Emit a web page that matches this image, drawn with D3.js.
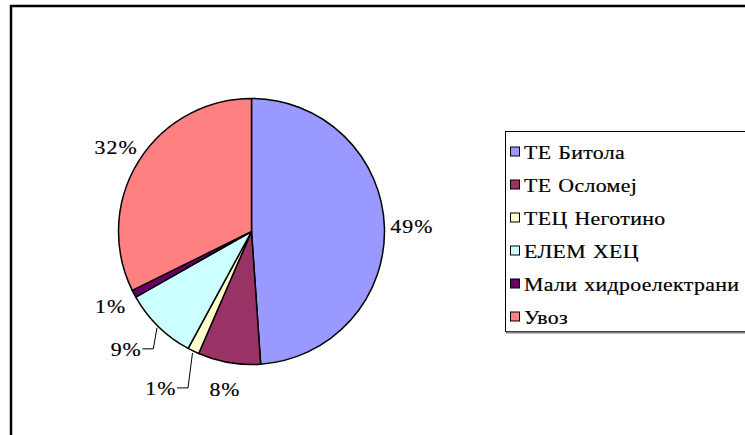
<!DOCTYPE html>
<html>
<head>
<meta charset="utf-8">
<title>Pie</title>
<script src="https://d3js.org/d3.v7.min.js"></script>
<style>
  body { margin: 0; background: #fff; }
</style>
</head>
<body>
<div id="chart"></div>
<script>
// data (percent of total)
var labels = ["ТЕ Битола", "ТЕ Осломеј", "ТЕЦ Неготино", "ЕЛЕМ ХЕЦ", "Мали хидроелектрани", "Увоз"];
var values = [48.9, 7.6, 1.4, 8.9, 0.9, 32.3];
var colors = ["#9999FF", "#993366", "#FFFFCC", "#CCFFFF", "#660066", "#FF8080"];

var width = 745, height = 435;
var cx = 251.5, cy = 231.5, r = 133;
var FONT = "Liberation Serif";
var stretch = 1.15;   // glyphs look a bit widened in the original

var svg = d3.select("#chart").append("svg")
    .attr("width", width)
    .attr("height", height);

// outer frame (only left and top edges are inside the picture)
svg.append("rect")
    .attr("x", 11).attr("y", 6)
    .attr("width", 800).attr("height", 500)
    .attr("fill", "none")
    .attr("stroke", "#000")
    .attr("stroke-width", 2.5);

var pie = d3.pie().sort(null).value(function(d) { return d; });
var arcs = pie(values);
var arc = d3.arc().innerRadius(0).outerRadius(r);

var g = svg.append("g").attr("transform", "translate(" + cx + "," + cy + ")");

g.selectAll("path.slice")
    .data(arcs)
    .enter().append("path")
    .attr("class", "slice")
    .attr("d", arc)
    .attr("fill", function(d, i) { return colors[i]; })
    .attr("stroke", "#000")
    .attr("stroke-width", 1.5)
    .attr("stroke-linejoin", "round");

// labels: most sit on a ring, two were dragged out and have leader lines
var moved = { 2: { r: 181, da: 0.075 }, 3: { r: 172, da: 0.044 } };
function polar(rad, a) { return [Math.sin(a) * rad, -Math.cos(a) * rad]; }

arcs.forEach(function(d, i) {
  var mid = (d.startAngle + d.endAngle) / 2;
  var m = moved[i];
  var p = m ? polar(m.r, mid + m.da) : polar(160, mid);
  var t = g.append("text")
      .attr("transform", "translate(" + (p[0] + 0.5) + "," + p[1] + ") scale(" + stretch + ",1)")
      .attr("text-anchor", "middle")
      .attr("dy", "0.35em")
      .attr("font-family", FONT)
      .attr("font-size", 19)
      .attr("letter-spacing", 0.9)
      .attr("stroke", "#000")
      .attr("stroke-width", 0.2)
      .text(Math.round(d.value) + "%");
  if (m) {
    var w = t.node().getComputedTextLength() * stretch;
    var x0 = p[0] + w / 2 + 1, y0 = p[1];
    var e = polar(135, mid);
    g.append("polyline")
        .attr("points", [[x0, y0], [x0 + 11, y0], e].map(function(q) { return q.join(","); }).join(" "))
        .attr("fill", "none")
        .attr("stroke", "#000")
        .attr("stroke-width", 1);
  }
});

// legend
var lg = svg.append("g");
lg.append("rect")
    .attr("x", 505.5).attr("y", 131.5)
    .attr("width", 300).attr("height", 200)
    .attr("fill", "#fff")
    .attr("stroke", "#000")
    .attr("stroke-width", 1);
lg.append("line")
    .attr("x1", 506).attr("x2", 745)
    .attr("y1", 332.5).attr("y2", 332.5)
    .attr("stroke", "#808080")
    .attr("stroke-width", 2);

var rowY = d3.scalePoint().domain(d3.range(labels.length)).range([152, 317]);
labels.forEach(function(name, i) {
  var y = rowY(i);
  lg.append("rect")
      .attr("x", 510.5).attr("y", y - 5)
      .attr("width", 9).attr("height", 9)
      .attr("fill", colors[i])
      .attr("stroke", "#000")
      .attr("stroke-width", 1);
  lg.append("text")
      .attr("transform", "translate(524," + y + ") scale(" + stretch + ",1)")
      .attr("dy", "0.35em")
      .attr("font-family", FONT)
      .attr("font-size", 19)
      .attr("letter-spacing", 0.3)
      .attr("word-spacing", 1)
      .attr("stroke", "#000")
      .attr("stroke-width", 0.2)
      .text(name);
});
</script>
</body>
</html>
